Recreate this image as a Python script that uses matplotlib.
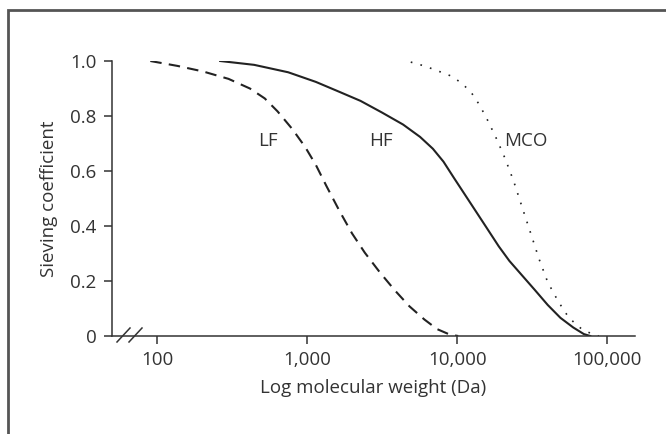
import matplotlib.pyplot as plt
from matplotlib.patches import Rectangle

# Sieving curves
lf_mw = [90, 137, 202, 299, 415, 521, 634, 797, 970, 1142, 1344, 1636, 1990,
         2420, 3043, 3823, 4800, 6040, 7345, 8935, 10150]
lf_sc = [1.0, 0.982, 0.962, 0.935, 0.9, 0.864, 0.817, 0.752, 0.687, 0.622, 0.545,
         0.456, 0.373, 0.303, 0.232, 0.167, 0.108, 0.06, 0.025, 0.005, 0.0]

hf_mw = [263, 443, 747, 1142, 1636, 2266, 3141, 4353, 5652, 6877, 8094, 9528,
         11220, 13210, 15550, 18910, 22260, 27080, 32940, 40070, 48730, 59290,
         69800, 76970]
hf_sc = [1.0, 0.986, 0.959, 0.924, 0.888, 0.855, 0.813, 0.769, 0.724, 0.681, 0.634,
         0.574, 0.515, 0.456, 0.397, 0.326, 0.273, 0.22, 0.167, 0.113, 0.066, 0.031,
         0.007, 0.0]

mco_mw = [4900, 6040, 7345, 8935, 10510, 12310, 14080, 16060, 18310, 20860, 23770,
          27080, 30850, 35150, 40070, 47200, 55500, 67580, 79400, 87700]
mco_sc = [0.996, 0.982, 0.965, 0.947, 0.923, 0.888, 0.84, 0.781, 0.716, 0.645, 0.563,
          0.468, 0.374, 0.279, 0.196, 0.125, 0.066, 0.025, 0.007, 0.0]

x_ticks = [100, 1000, 10000, 100000]
x_labels = ['100', '1,000', '10,000', '100,000']
y_ticks = [0, 0.2, 0.4, 0.6, 0.8, 1.0]
y_labels = ['0', '0.2', '0.4', '0.6', '0.8', '1.0']

plt.rcParams['font.family'] = ['Open Sans', 'DejaVu Sans']
txt = '#333333'
fs = 13.5

fig = plt.figure(figsize=(6.66, 4.34), dpi=100)
# grey frame around the figure (bottom and right edges fall outside)
fig.patches.append(Rectangle((8 / 666, -0.1), 1.2, (434 - 10) / 434 + 0.1,
                             transform=fig.transFigure, fill=False,
                             edgecolor='#555555', linewidth=2))

ax = fig.add_axes([112 / 666, 1 - 336 / 434, (635 - 112) / 666, (336 - 61) / 434])
ax.plot(lf_mw, lf_sc, color='#222222', lw=1.5, linestyle=(0, (5.5, 3.5)))
ax.plot(hf_mw, hf_sc, color='#222222', lw=1.5)
ax.plot(mco_mw, mco_sc, color='#222222', lw=1.2, linestyle=(0, (1, 5)))

ax.set_xscale('log')
ax.set_xlim(50, 153000)
ax.set_ylim(0, 1.0)
ax.set_xticks(x_ticks)
ax.set_xticklabels(x_labels)
ax.minorticks_off()
ax.set_yticks(y_ticks)
ax.set_yticklabels(y_labels)

ax.text(546, 0.708, 'LF', ha='center', va='center', fontsize=fs, color=txt)
ax.text(3090, 0.708, 'HF', ha='center', va='center', fontsize=fs, color=txt)
ax.text(28800, 0.708, 'MCO', ha='center', va='center', fontsize=fs, color=txt)

for s in ['top', 'right']:
    ax.spines[s].set_visible(False)
for s in ['left', 'bottom']:
    ax.spines[s].set_color('#333333')
    ax.spines[s].set_linewidth(1.1)
ax.tick_params(length=6, width=1.1, color='#333333', labelsize=fs,
               labelcolor=txt, pad=5)
ax.set_xlabel('Log molecular weight (Da)', fontsize=fs, color=txt, labelpad=7)
ax.set_ylabel('Sieving coefficient', fontsize=fs, color=txt, labelpad=9)

# axis break marks
for x0 in (117, 129):
    fig.add_artist(plt.Line2D([x0 / 666, (x0 + 13) / 666],
                              [1 - 342 / 434, 1 - 328 / 434],
                              color='#333333', lw=1.1))

fig.savefig('out.png', dpi=100)
